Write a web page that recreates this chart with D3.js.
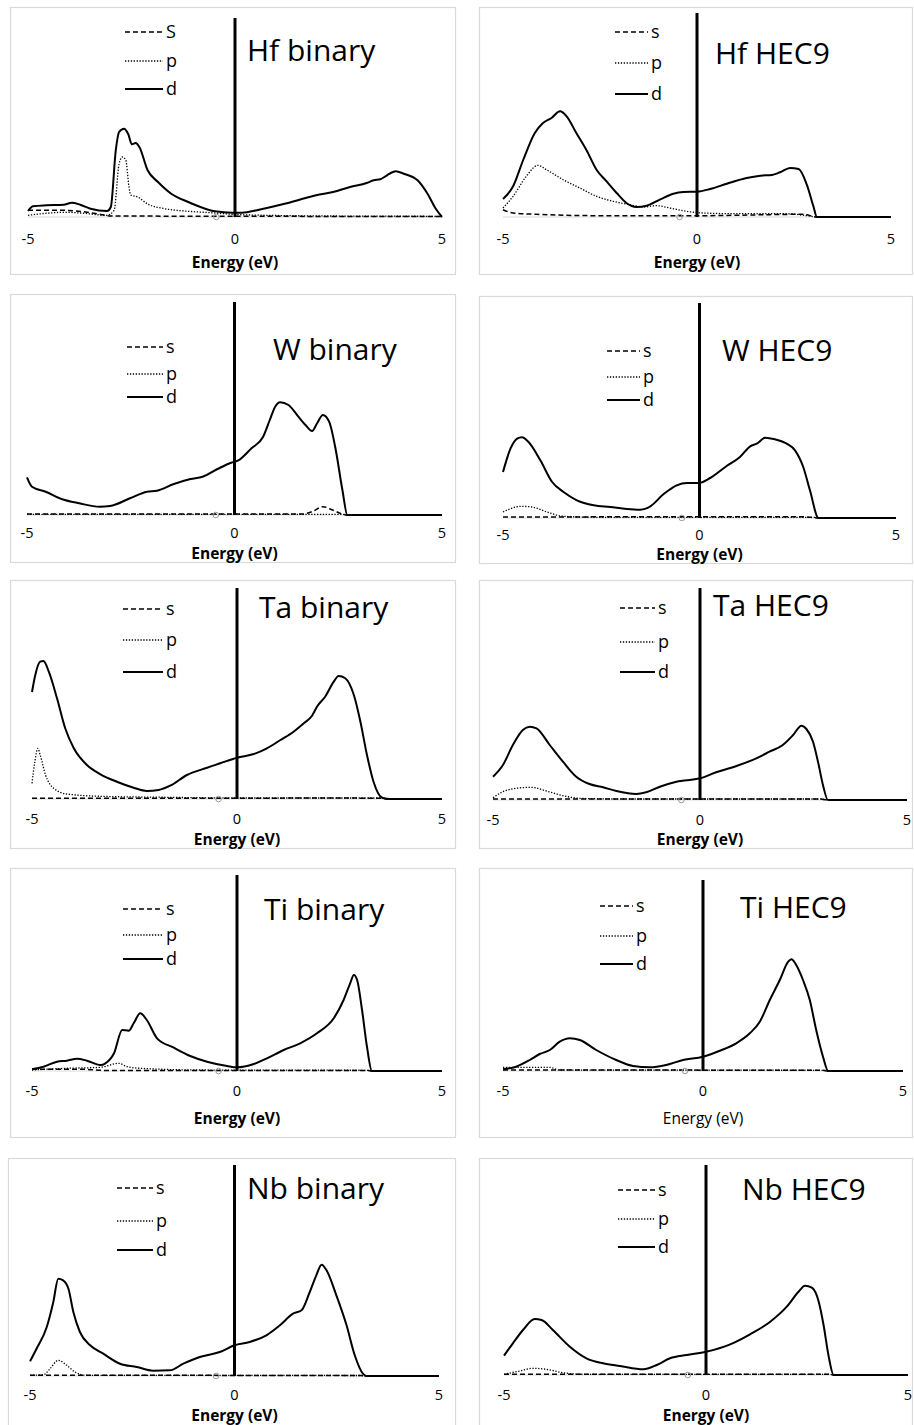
<!DOCTYPE html>
<html>
<head>
<meta charset="utf-8">
<title>PDOS panels</title>
<script src="https://d3js.org/d3.v7.min.js"></script>
<style>
  body { margin: 0; background: #fff; }
  svg { display: block; }
  text { font-family: "Open Sans", "Noto Sans", sans-serif; fill: #000; }
</style>
</head>
<body>
<div id="chart"></div>
<script>
// x ticks shared by all panels
var xTicks = [-5, 0, 5];
var fermiMarkE = -0.45; // small grey circle on the axis

// [energy eV, DOS (arb. units)]
var hfBinD = [[-5,6],[-4.88,10.7],[-4.55,11.7],[-4.14,12.3],[-3.94,14.3],[-3.74,12.3],[-3.49,8.3],[-3.09,6],[-3.0,10],[-2.88,66.7],[-2.80,85],[-2.68,88.3],[-2.58,83],[-2.49,72.7],[-2.40,74],[-2.31,70],[-2.11,46.7],[-1.86,35],[-1.54,23.3],[-1.13,15],[-0.72,8.3],[-0.48,5.7],[-0.07,4.3],[0.17,4.3],[0.58,7.3],[1.15,12.7],[1.56,17.3],[1.96,21.7],[2.37,25],[2.78,30],[3.18,34],[3.35,36.7],[3.51,37.7],[3.67,41.7],[3.88,45.7],[4.08,43.3],[4.41,36.7],[4.65,23.3],[4.85,8.3],[5,0]];
var hfBinP = [[-5,1.7],[-4.1,4.7],[-3.74,4],[-3.09,1.7],[-2.92,6.7],[-2.80,53],[-2.72,60],[-2.64,57],[-2.56,30],[-2.52,22],[-2.35,20],[-2.11,13],[-1.70,8.3],[-1.21,6],[-0.48,4],[-0.07,2.7],[0.74,1.7],[2.37,1],[5,0.7]];
var hfBinS = [[-5,6.7],[-4.14,6.7],[-3.33,3.3],[-3.0,1],[5,0.5]];

var hfHecD = [[-5,18],[-4.74,30.7],[-4.48,57],[-4.18,84],[-3.97,94],[-3.75,99],[-3.53,105.7],[-3.36,100.7],[-3.11,84],[-2.85,67],[-2.59,47.3],[-2.33,35.7],[-2.07,24],[-1.82,14],[-1.56,10],[-1.30,11.3],[-0.96,17.3],[-0.61,23.3],[-0.35,25],[0,25.3],[0.34,28],[0.77,33.3],[1.28,39],[1.63,41.3],[1.93,42],[2.14,44.7],[2.40,49],[2.62,48],[2.83,32.3],[3.0,10.7],[3.09,0],[5,0]];
var hfHecP = [[-5,9],[-4.74,20.7],[-4.40,40.7],[-4.10,51.7],[-3.88,47.3],[-3.45,37.3],[-3.02,29],[-2.59,20.7],[-2.16,15.7],[-1.73,12.3],[-1.39,10],[-1.04,11.3],[-0.70,9],[-0.27,5.7],[0.16,4],[1.02,3.3],[2.31,3.3],[2.83,1.3],[3.09,0],[5,0]];
var hfHecS = [[-5,7.3],[-4.74,4],[-4.14,2.7],[-2.42,1.3],[0,1.3],[2.75,2.7],[3.09,0],[5,0]];

var wBinD = [[-5,37.7],[-4.88,28.3],[-4.55,23.3],[-4.15,15.7],[-3.74,11.7],[-3.25,8.3],[-3.0,9],[-2.52,16.7],[-2.11,23.3],[-1.87,24.3],[-1.46,31],[-1.06,36],[-0.77,38.3],[-0.41,46],[-0.08,52.3],[0.08,54.3],[0.41,66.7],[0.69,78.3],[0.85,95],[0.98,108.3],[1.10,112.7],[1.30,110],[1.54,98.3],[1.71,90],[1.87,84],[1.99,91.7],[2.13,100],[2.28,93.3],[2.44,65],[2.60,25],[2.72,0],[5,0]];
var wBinP = [[-5,0.7],[2.6,0.7],[2.72,0],[5,0]];
var wBinS = [[-5,1],[1.63,1],[1.87,3.3],[2.13,8.3],[2.36,5],[2.6,1],[2.72,0],[5,0]];

var wHecD = [[-5,46],[-4.81,69.3],[-4.64,79.3],[-4.52,80.7],[-4.35,76],[-4.05,57.7],[-3.75,36],[-3.46,26],[-3.12,17.7],[-2.69,12.7],[-2.27,11],[-1.85,9],[-1.51,8.3],[-1.25,11.7],[-0.92,23.7],[-0.58,32.7],[-0.32,35],[-0.03,35],[0.27,40],[0.69,52],[1.03,61],[1.29,71.7],[1.46,74.3],[1.67,80.3],[1.92,78.7],[2.22,74.3],[2.43,67.7],[2.64,51],[2.81,27.7],[3.03,0],[5,0]];
var wHecP = [[-5,6],[-4.81,9.3],[-4.56,11.7],[-4.26,11],[-3.88,6],[-3.46,1.7],[-2.5,0.7],[2.9,0.7],[3.03,0],[5,0]];
var wHecS = [[-5,1],[2.64,1.3],[3.03,0],[5,0]];

var taBinD = [[-5,107],[-4.92,124],[-4.80,137.3],[-4.72,138],[-4.59,127.3],[-4.39,100.7],[-4.19,70.7],[-3.98,50.7],[-3.66,34],[-3.33,24.7],[-2.93,17.3],[-2.52,11.3],[-2.20,8],[-1.91,9],[-1.63,13.3],[-1.22,24],[-0.73,31.3],[-0.41,35.7],[0,41.3],[0.41,45],[0.73,50.7],[1.06,59],[1.38,67.3],[1.63,75.7],[1.83,83.3],[1.95,92.3],[2.15,102.3],[2.36,117.3],[2.48,123],[2.64,120.7],[2.85,104],[3.01,77.3],[3.17,44],[3.33,17.3],[3.54,1.3],[3.74,0],[5,0]];
var taBinP = [[-5,15.7],[-4.93,37.3],[-4.86,50.7],[-4.80,44],[-4.67,24],[-4.47,10.7],[-4.15,5],[-3.33,2.7],[-1.71,1.7],[0,1],[3.5,1],[3.74,0],[5,0]];
var taBinS = [[-5,0.7],[0,0.7],[2,1],[3.5,0.7],[3.74,0],[5,0]];

var taHecD = [[-5,23.3],[-4.76,35],[-4.52,55],[-4.28,70],[-4.11,73.3],[-3.95,71.7],[-3.63,55],[-3.31,38.3],[-2.99,23.3],[-2.67,16],[-2.34,12.7],[-2.02,9],[-1.54,6],[-1.30,7.7],[-0.97,13.3],[-0.57,18.3],[0,21.7],[0.39,27.7],[0.88,34],[1.36,41.7],[1.68,48.3],[2.00,55],[2.25,65],[2.45,74.3],[2.57,71],[2.73,58.3],[2.85,38.3],[2.97,15],[3.09,0],[5,0]];
var taHecP = [[-5,2.3],[-4.76,8.3],[-4.44,11.7],[-4.07,12.7],[-3.71,9],[-3.31,4.3],[-2.91,1.7],[-2,1],[2.9,1],[3.09,0],[5,0]];
var taHecS = [[-5,1],[2.9,1],[3.09,0],[5,0]];

var tiBinD = [[-5,1.7],[-4.72,4.3],[-4.39,9.3],[-4.15,10.3],[-3.90,12.3],[-3.66,10.3],[-3.33,6],[-3.21,7.7],[-3.0,17.7],[-2.80,41],[-2.64,40.3],[-2.52,47.7],[-2.36,57.7],[-2.20,51],[-1.95,32.7],[-1.54,23.3],[-1.14,15],[-0.73,9.3],[-0.24,5],[0,3.7],[0.41,7],[0.73,12.7],[1.14,21],[1.54,27.7],[1.95,37.7],[2.36,52.7],[2.60,71],[2.76,87.7],[2.85,96],[2.93,91],[3.05,61],[3.17,24.3],[3.29,0],[5,0]];
var tiBinP = [[-5,1],[-4.15,2.7],[-3.33,3.7],[-2.89,7.7],[-2.68,4.3],[-2.36,2.7],[-0.9,1],[3.2,0.7],[3.29,0],[5,0]];
var tiBinS = [[-5,1.7],[-3.74,1.7],[-3.17,0.5],[3.2,0.5],[3.29,0],[5,0]];

var tiHecD = [[-5,1.7],[-4.67,4.3],[-4.33,11],[-4.08,17],[-3.83,21],[-3.58,29.3],[-3.33,32.7],[-3.08,31],[-2.67,21],[-2.17,11],[-1.75,5],[-1.33,3.7],[-0.92,6],[-0.50,11],[0,14.3],[0.42,20.3],[0.83,27.7],[1.17,37.7],[1.42,49.3],[1.67,71],[1.92,91],[2.13,109.3],[2.21,111.7],[2.33,106],[2.50,91],[2.67,71],[2.83,41],[3.0,14.3],[3.13,0],[5,0]];
var tiHecP = [[-5,3.7],[-3.83,3.7],[-3.6,1],[3,0.7],[3.13,0],[5,0]];
var tiHecS = [[-5,1],[3,0.7],[3.13,0],[5,0]];

var nbBinD = [[-5,14.7],[-4.84,27.3],[-4.59,49],[-4.43,74],[-4.31,97.3],[-4.19,95.7],[-4.06,87.3],[-3.94,64],[-3.78,44],[-3.53,30.7],[-3.21,22.3],[-2.80,12.3],[-2.39,9],[-1.99,5.3],[-1.58,5.7],[-1.25,12.3],[-0.85,19],[-0.36,24],[0,30.7],[0.37,34],[0.78,40.7],[1.11,50.7],[1.43,62.3],[1.64,65.7],[1.84,84],[2.0,100.7],[2.13,111.3],[2.25,105.7],[2.49,80.7],[2.74,50.7],[2.94,20.7],[3.14,2.3],[3.22,0],[5,0]];
var nbBinP = [[-5,0.7],[-4.67,1.3],[-4.51,7.3],[-4.31,15.7],[-4.10,10.7],[-3.90,4],[-3.62,0.7],[3.1,0.5],[3.22,0],[5,0]];
var nbBinS = [[-5,0.7],[3.1,0.5],[3.22,0],[5,0]];

var nbHecD = [[-5,19.3],[-4.78,31.7],[-4.53,45],[-4.24,56],[-4.07,55],[-3.79,45],[-3.37,28.3],[-2.96,16.7],[-2.55,11.7],[-2.13,9],[-1.55,5.7],[-1.22,10],[-0.89,16.7],[-0.48,20],[0,23.3],[0.60,30.7],[1.09,40.7],[1.59,53.3],[2.0,68.3],[2.29,83.3],[2.45,89.3],[2.62,87.3],[2.79,73.3],[2.91,50],[3.03,20],[3.16,0],[5,0]];
var nbHecP = [[-5,0.7],[-4.61,4],[-4.28,6.7],[-3.95,5.7],[-3.54,2.3],[-3,0.7],[3.05,0.7],[3.16,0],[5,0]];
var nbHecS = [[-5,0.7],[3.05,0.7],[3.16,0],[5,0]];

// layout of each panel: box, x range, baseline, top of the zero line, title, legend rows
var panels = [
  {title:"Hf binary", d:hfBinD, p:hfBinP, s:hfBinS, sLab:"S", box:[10,7,455,274], xr:[28,442], base:217, top:18, tx:247, ty:61, lg:[125,163,32,61,89], tickY:244, labY:268, bold:true},
  {title:"Hf HEC9", d:hfHecD, p:hfHecP, s:hfHecS, sLab:"s", box:[479,7,912,274], xr:[503,891], base:217, top:13, tx:715, ty:64, lg:[615,648,32,63,94], tickY:244, labY:268, bold:true},
  {title:"W binary", d:wBinD, p:wBinP, s:wBinS, sLab:"s", box:[10,294,455,562], xr:[27,442], base:515, top:302, tx:273, ty:360, lg:[127,163,347,374,397], tickY:538, labY:559, bold:true},
  {title:"W HEC9", d:wHecD, p:wHecP, s:wHecS, sLab:"s", box:[479,296,912,563], xr:[503,896], base:518, top:303, tx:722, ty:361, lg:[607,640,351,377,400], tickY:540, labY:560, bold:true},
  {title:"Ta binary", d:taBinD, p:taBinP, s:taBinS, sLab:"s", box:[10,580,455,848], xr:[32,442], base:799, top:588, tx:259, ty:618, lg:[123,163,609,640,672], tickY:824, labY:845, bold:true},
  {title:"Ta HEC9", d:taHecD, p:taHecP, s:taHecS, sLab:"s", box:[479,580,912,848], xr:[493,907], base:800, top:588, tx:713, ty:616, lg:[620,655,608,642,672], tickY:825, labY:845, bold:true},
  {title:"Ti binary", d:tiBinD, p:tiBinP, s:tiBinS, sLab:"s", box:[10,868,455,1137], xr:[32,442], base:1071, top:875, tx:264, ty:920, lg:[123,163,909,935,959], tickY:1096, labY:1124, bold:true},
  {title:"Ti HEC9", d:tiHecD, p:tiHecP, s:tiHecS, sLab:"s", box:[479,868,912,1137], xr:[503,903], base:1071, top:880, tx:740, ty:918, lg:[600,633,906,936,964], tickY:1096, labY:1124, bold:false},
  {title:"Nb binary", d:nbBinD, p:nbBinP, s:nbBinS, sLab:"s", box:[8,1158,455,1430], xr:[30,439], base:1376, top:1165, tx:247, ty:1199, lg:[117,153,1188,1221,1250], tickY:1400, labY:1421, bold:true},
  {title:"Nb HEC9", d:nbHecD, p:nbHecP, s:nbHecS, sLab:"s", box:[479,1158,912,1430], xr:[504,908], base:1375, top:1165, tx:742, ty:1200, lg:[618,655,1190,1219,1247], tickY:1400, labY:1421, bold:true}
];

var width = 914, height = 1425;

var svg = d3.select("#chart").append("svg")
  .attr("width", width)
  .attr("height", height);

var styles = {
  s: {dash: "5,3", w: 1.5},
  p: {dash: "1.3,1.6", w: 1.3},
  d: {dash: null, w: 2}
};

panels.forEach(function(pn) {
  var g = svg.append("g");

  // panel frame
  g.append("rect")
    .attr("x", pn.box[0] + 0.5).attr("y", pn.box[1] + 0.5)
    .attr("width", pn.box[2] - pn.box[0]).attr("height", pn.box[3] - pn.box[1])
    .attr("fill", "#fff").attr("stroke", "#d9d9d9").attr("stroke-width", 1.2);

  var x = d3.scaleLinear().domain([-5, 5]).range(pn.xr);
  var y = d3.scaleLinear().domain([0, 100]).range([pn.base, pn.base - 100]);

  // axis line
  g.append("line")
    .attr("x1", x(-5)).attr("x2", x(5))
    .attr("y1", y(0)).attr("y2", y(0))
    .attr("stroke", "#d9d9d9").attr("stroke-width", 1);

  // tick labels
  g.selectAll(".tk").data(xTicks).enter().append("text")
    .attr("x", function(d) { return x(d); })
    .attr("y", pn.tickY)
    .attr("text-anchor", "middle")
    .style("font-size", "14.5px")
    .text(function(d) { return d; });

  g.append("text")
    .attr("x", x(0))
    .attr("y", pn.labY)
    .attr("text-anchor", "middle")
    .style("font-size", "15.5px")
    .style("font-weight", pn.bold ? "bold" : "normal")
    .text("Energy (eV)");

  var line = d3.line()
    .x(function(d) { return x(d[0]); })
    .y(function(d) { return y(d[1]); })
    .curve(d3.curveMonotoneX);

  ["s", "p", "d"].forEach(function(k) {
    g.append("path")
      .datum(pn[k])
      .attr("d", line)
      .attr("fill", "none")
      .attr("stroke", "#000")
      .attr("stroke-width", styles[k].w)
      .attr("stroke-dasharray", styles[k].dash)
      .attr("stroke-linejoin", "round");
  });

  // grey marker circle
  g.append("circle")
    .attr("cx", x(fermiMarkE)).attr("cy", y(0)).attr("r", 2.8)
    .attr("fill", "none").attr("stroke", "#999").attr("stroke-width", 1);

  // Fermi level line
  g.append("line")
    .attr("x1", x(0)).attr("x2", x(0))
    .attr("y1", pn.top).attr("y2", y(0))
    .attr("stroke", "#000").attr("stroke-width", 3);

  // legend
  var keys = ["s", "p", "d"];
  keys.forEach(function(k, i) {
    var ly = pn.lg[2 + i];
    g.append("line")
      .attr("x1", pn.lg[0]).attr("x2", pn.lg[1])
      .attr("y1", ly).attr("y2", ly)
      .attr("stroke", "#000")
      .attr("stroke-width", styles[k].w)
      .attr("stroke-dasharray", styles[k].dash);
    g.append("text")
      .attr("x", pn.lg[1] + 3)
      .attr("y", ly + 6)
      .style("font-size", "18px")
      .text(k == "s" ? pn.sLab : k);
  });

  g.append("text")
    .attr("x", pn.tx)
    .attr("y", pn.ty)
    .style("font-size", "30px")
    .text(pn.title);
});
</script>
</body>
</html>
